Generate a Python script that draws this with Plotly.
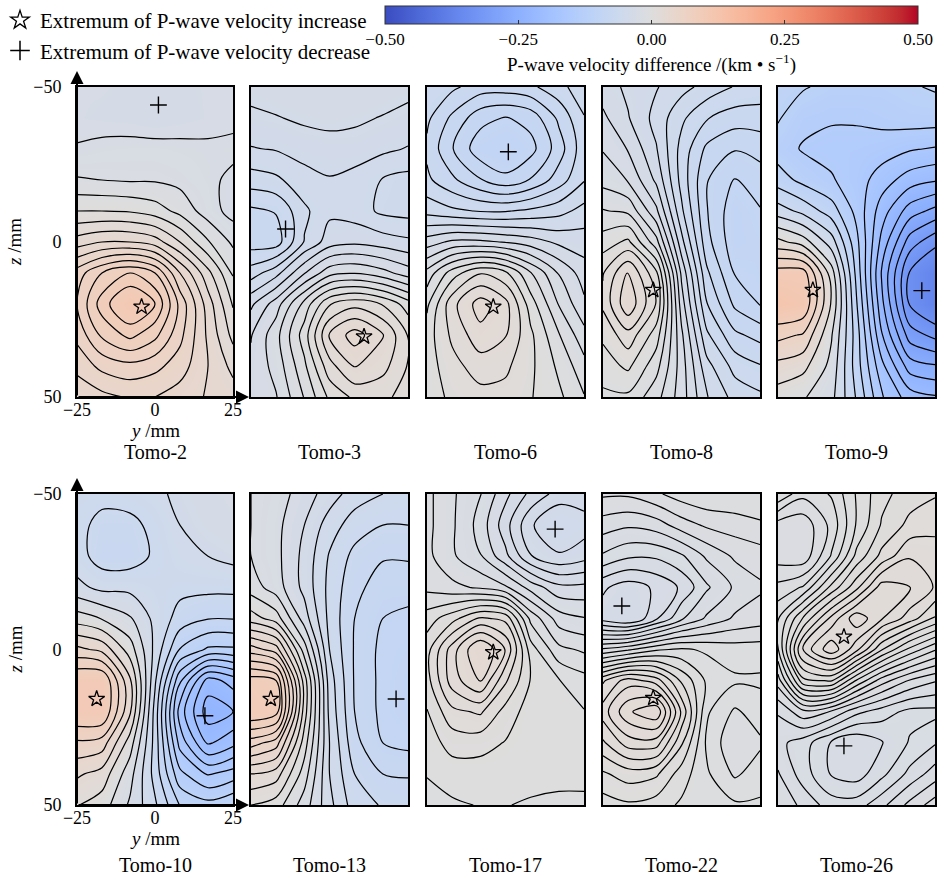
import math
import plotly.graph_objects as go

# ---------------- data (km/s), grid ----------------
Y_MM = [-25, -17, -8, 0, 8, 17, 25]
Z_MM = [-50, -40, -30, -20, -10, 0, 10, 20, 30, 40, 50]

PANEL_NAMES = ["Tomo-2", "Tomo-3", "Tomo-6", "Tomo-8", "Tomo-9",
               "Tomo-10", "Tomo-13", "Tomo-17", "Tomo-22", "Tomo-26"]

TOMO_2 = [
    [-0.029, -0.029, -0.030, -0.031, -0.030, -0.029, -0.028],
    [-0.029, -0.030, -0.031, -0.033, -0.031, -0.029, -0.028],
    [-0.024, -0.022, -0.021, -0.021, -0.022, -0.023, -0.022],
    [-0.014, -0.015, -0.016, -0.016, -0.018, -0.022, -0.028],
    [0.005, 0.005, 0.004, 0.000, -0.008, -0.020, -0.029],
    [0.030, 0.035, 0.035, 0.030, 0.015, -0.004, -0.017],
    [0.060, 0.075, 0.085, 0.075, 0.045, 0.018, -0.006],
    [0.065, 0.090, 0.108, 0.095, 0.062, 0.030, 0.004],
    [0.058, 0.077, 0.088, 0.078, 0.058, 0.033, 0.012],
    [0.048, 0.058, 0.062, 0.058, 0.050, 0.035, 0.022],
    [0.038, 0.042, 0.046, 0.045, 0.040, 0.034, 0.030],
]
TOMO_3 = [
    [-0.036, -0.034, -0.032, -0.032, -0.032, -0.034, -0.036],
    [-0.040, -0.039, -0.037, -0.036, -0.037, -0.039, -0.041],
    [-0.046, -0.045, -0.043, -0.042, -0.042, -0.044, -0.046],
    [-0.056, -0.054, -0.048, -0.046, -0.048, -0.053, -0.055],
    [-0.068, -0.066, -0.054, -0.047, -0.049, -0.054, -0.055],
    [-0.070, -0.070, -0.052, -0.042, -0.040, -0.042, -0.044],
    [-0.056, -0.048, -0.032, -0.020, -0.018, -0.022, -0.028],
    [-0.040, -0.028, -0.008, 0.010, 0.015, 0.010, 0.000],
    [-0.032, -0.020, 0.000, 0.025, 0.035, 0.025, 0.010],
    [-0.030, -0.022, -0.005, 0.015, 0.025, 0.020, 0.010],
    [-0.030, -0.025, -0.010, 0.005, 0.012, 0.012, 0.008],
]
TOMO_6 = [
    [-0.060, -0.065, -0.070, -0.070, -0.068, -0.062, -0.055],
    [-0.065, -0.075, -0.085, -0.088, -0.085, -0.072, -0.060],
    [-0.068, -0.080, -0.092, -0.096, -0.090, -0.077, -0.062],
    [-0.065, -0.072, -0.080, -0.085, -0.080, -0.070, -0.060],
    [-0.055, -0.058, -0.060, -0.060, -0.058, -0.055, -0.050],
    [-0.035, -0.030, -0.030, -0.032, -0.035, -0.040, -0.042],
    [-0.015, 0.000, 0.010, 0.005, -0.010, -0.025, -0.035],
    [-0.005, 0.015, 0.028, 0.020, 0.000, -0.018, -0.030],
    [0.000, 0.012, 0.022, 0.018, 0.005, -0.010, -0.022],
    [0.000, 0.008, 0.014, 0.012, 0.005, -0.005, -0.015],
    [0.000, 0.005, 0.008, 0.008, 0.004, -0.002, -0.010],
]
TOMO_8 = [
    [-0.035, -0.040, -0.045, -0.050, -0.055, -0.060, -0.062],
    [-0.030, -0.038, -0.048, -0.058, -0.066, -0.070, -0.070],
    [-0.025, -0.032, -0.045, -0.062, -0.075, -0.080, -0.078],
    [-0.020, -0.025, -0.040, -0.062, -0.080, -0.088, -0.084],
    [-0.010, -0.012, -0.030, -0.058, -0.080, -0.092, -0.088],
    [0.000, 0.005, -0.015, -0.050, -0.078, -0.092, -0.090],
    [0.010, 0.025, 0.005, -0.040, -0.072, -0.088, -0.090],
    [0.012, 0.030, 0.010, -0.035, -0.066, -0.082, -0.088],
    [0.005, 0.015, 0.000, -0.030, -0.058, -0.072, -0.076],
    [0.000, 0.005, -0.008, -0.028, -0.050, -0.062, -0.066],
    [-0.005, -0.005, -0.015, -0.028, -0.045, -0.055, -0.058],
]
TOMO_9 = [
    [-0.100, -0.110, -0.120, -0.120, -0.120, -0.115, -0.110],
    [-0.110, -0.130, -0.135, -0.135, -0.130, -0.125, -0.125],
    [-0.125, -0.140, -0.145, -0.145, -0.150, -0.160, -0.165],
    [-0.100, -0.120, -0.135, -0.150, -0.175, -0.200, -0.210],
    [-0.050, -0.070, -0.100, -0.145, -0.200, -0.250, -0.270],
    [0.020, 0.000, -0.050, -0.130, -0.220, -0.300, -0.330],
    [0.100, 0.100, 0.000, -0.120, -0.240, -0.340, -0.370],
    [0.120, 0.110, 0.010, -0.110, -0.230, -0.340, -0.370],
    [0.070, 0.060, -0.010, -0.100, -0.210, -0.300, -0.320],
    [0.030, 0.020, -0.020, -0.100, -0.180, -0.250, -0.260],
    [0.000, -0.010, -0.030, -0.090, -0.160, -0.200, -0.210],
]
TOMO_10 = [
    [-0.055, -0.058, -0.055, -0.050, -0.040, -0.030, -0.028],
    [-0.058, -0.068, -0.068, -0.058, -0.045, -0.035, -0.030],
    [-0.055, -0.072, -0.072, -0.060, -0.050, -0.045, -0.040],
    [-0.040, -0.050, -0.050, -0.055, -0.058, -0.058, -0.058],
    [0.000, -0.010, -0.025, -0.050, -0.070, -0.080, -0.080],
    [0.050, 0.040, 0.000, -0.050, -0.100, -0.120, -0.120],
    [0.100, 0.100, 0.030, -0.060, -0.150, -0.215, -0.200],
    [0.100, 0.100, 0.030, -0.070, -0.180, -0.235, -0.225],
    [0.060, 0.055, 0.000, -0.070, -0.160, -0.210, -0.195],
    [0.030, 0.020, -0.020, -0.070, -0.130, -0.155, -0.145],
    [0.010, 0.000, -0.030, -0.060, -0.100, -0.110, -0.100],
]
TOMO_13 = [
    [-0.015, -0.020, -0.030, -0.040, -0.050, -0.055, -0.058],
    [-0.015, -0.022, -0.035, -0.050, -0.060, -0.065, -0.065],
    [-0.015, -0.022, -0.038, -0.056, -0.068, -0.074, -0.074],
    [-0.010, -0.020, -0.038, -0.058, -0.072, -0.080, -0.080],
    [0.010, 0.000, -0.030, -0.058, -0.075, -0.085, -0.088],
    [0.050, 0.040, -0.010, -0.055, -0.076, -0.088, -0.090],
    [0.090, 0.085, 0.010, -0.050, -0.076, -0.088, -0.092],
    [0.095, 0.090, 0.010, -0.048, -0.075, -0.088, -0.092],
    [0.060, 0.050, 0.000, -0.045, -0.072, -0.085, -0.088],
    [0.025, 0.020, -0.010, -0.045, -0.065, -0.075, -0.076],
    [0.005, 0.000, -0.020, -0.042, -0.060, -0.066, -0.068],
]
TOMO_17 = [
    [-0.010, -0.015, -0.020, -0.028, -0.035, -0.040, -0.040],
    [-0.010, -0.015, -0.022, -0.032, -0.042, -0.048, -0.045],
    [-0.010, -0.015, -0.020, -0.028, -0.038, -0.042, -0.040],
    [-0.008, -0.010, -0.012, -0.015, -0.022, -0.028, -0.028],
    [0.000, 0.005, 0.012, 0.010, -0.008, -0.018, -0.020],
    [0.005, 0.018, 0.030, 0.020, 0.000, -0.010, -0.012],
    [0.005, 0.018, 0.025, 0.012, 0.002, -0.002, -0.005],
    [0.002, 0.010, 0.012, 0.005, 0.000, 0.000, -0.002],
    [0.000, 0.004, 0.004, 0.002, 0.000, 0.000, 0.000],
    [-0.002, 0.000, 0.000, 0.000, 0.000, 0.000, 0.000],
    [-0.004, -0.003, -0.002, -0.002, -0.003, -0.004, -0.004],
]
TOMO_22 = [
    [-0.010, -0.010, -0.008, -0.006, -0.005, -0.005, -0.005],
    [-0.015, -0.016, -0.015, -0.012, -0.010, -0.009, -0.008],
    [-0.020, -0.022, -0.022, -0.020, -0.016, -0.013, -0.012],
    [-0.028, -0.030, -0.028, -0.025, -0.020, -0.016, -0.014],
    [-0.030, -0.032, -0.026, -0.020, -0.016, -0.013, -0.012],
    [-0.010, -0.008, -0.005, -0.004, -0.005, -0.006, -0.006],
    [0.010, 0.015, 0.012, 0.004, -0.002, -0.004, -0.004],
    [0.015, 0.022, 0.025, 0.010, -0.004, -0.008, -0.006],
    [0.010, 0.015, 0.015, 0.005, -0.005, -0.010, -0.008],
    [0.004, 0.006, 0.005, 0.000, -0.004, -0.008, -0.006],
    [0.000, 0.001, 0.000, -0.002, -0.003, -0.004, -0.004],
]
TOMO_26 = [
    [-0.004, -0.008, -0.006, -0.001, 0.003, 0.005, 0.006],
    [-0.0125, -0.013, -0.008, -0.001, 0.004, 0.007, 0.008],
    [-0.0125, -0.013, -0.006, 0.002, 0.007, 0.011, 0.010],
    [-0.008, -0.006, 0.002, 0.008, 0.015, 0.014, 0.011],
    [-0.004, 0.004, 0.012, 0.018, 0.014, 0.010, 0.006],
    [-0.004, 0.012, 0.018, 0.012, 0.004, -0.002, -0.006],
    [-0.010, 0.003, 0.004, -0.004, -0.010, -0.014, -0.016],
    [-0.016, -0.012, -0.014, -0.018, -0.020, -0.022, -0.022],
    [-0.018, -0.020, -0.024, -0.026, -0.024, -0.021, -0.019],
    [-0.016, -0.020, -0.024, -0.025, -0.022, -0.018, -0.015],
    [-0.014, -0.017, -0.020, -0.020, -0.017, -0.013, -0.010],
]
FIELDS = [TOMO_2, TOMO_3, TOMO_6, TOMO_8, TOMO_9,
          TOMO_10, TOMO_13, TOMO_17, TOMO_22, TOMO_26]

# contour interval of each panel (km/s)
CONTOUR_STEP = [0.010, 0.007, 0.007, 0.007, 0.025, 0.018, 0.010, 0.0045, 0.003, 0.0025]

# extremum positions (y, z in mm); None = not shown
STAR_Y = [-4.3, 11.0, -3.9, -9.0, -13.9, -18.7, -18.7, -3.9, -9.0, -4.0]
STAR_Z = [20.9, 30.5, 20.9, 15.5, 15.5, 15.9, 15.9, 0.9, 15.6, -4.1]
PLUS_Y = [1.1, -14.0, 0.9, None, 20.8, 16.0, 21.2, 15.8, -19.0, -4.0]
PLUS_Z = [-44.2, -4.2, -29.1, None, 15.7, 21.3, 15.9, -38.7, -14.0, 31.0]

CBAR_TICKS = [-0.5, -0.25, 0.0, 0.25, 0.5]
CBAR_LABELS = ["\u22120.50", "\u22120.25", "0.00", "0.25", "0.50"]

# ---------------- style ----------------
W, H = 941, 879
FONT = "Liberation Serif"
COL_PX = [(77, 233), (251, 408), (427, 584), (603, 760), (778, 935)]
ROW_PX = [(87, 397), (494, 805)]
TITLE_Y_PX = [452, 865]

COOLWARM = [
    (59, 76, 192), (68, 90, 204), (77, 104, 215), (87, 117, 225), (98, 130, 234),
    (108, 142, 241), (119, 154, 247), (130, 165, 251), (141, 176, 254),
    (152, 185, 255), (163, 194, 255), (174, 201, 253), (184, 208, 249),
    (194, 213, 244), (204, 217, 238), (213, 219, 230), (221, 221, 221),
    (229, 216, 209), (236, 211, 197), (241, 204, 185), (245, 196, 173),
    (247, 187, 160), (247, 177, 148), (247, 166, 135), (244, 154, 123),
    (241, 141, 111), (236, 127, 99), (229, 112, 88), (222, 96, 77),
    (213, 80, 66), (203, 62, 56), (192, 40, 47), (180, 4, 38)]
colorscale = [[i / (len(COOLWARM) - 1), "rgb(%d,%d,%d)" % c] for i, c in enumerate(COOLWARM)]

fig = go.Figure()
layout = dict(
    width=W, height=H, margin=dict(l=0, r=0, t=0, b=0, autoexpand=False),
    paper_bgcolor="white", plot_bgcolor="white",
    font=dict(family=FONT, size=18, color="black"),
    coloraxis=dict(
        colorscale=colorscale, cmin=-0.5, cmax=0.5,
        colorbar=dict(
            orientation="h", x=(385 + 918) / 2 / W, xanchor="center",
            y=1 - 6 / H, yanchor="top", len=(918 - 385) / W, lenmode="fraction",
            xpad=0, ypad=0,
            thickness=18, outlinewidth=1, outlinecolor="#333",
            ticks="inside", ticklen=4, tickcolor="#333",
            tickvals=CBAR_TICKS, ticktext=CBAR_LABELS,
            tickfont=dict(family=FONT, size=17),
            title=dict(text="P-wave velocity difference /(km \u2022 s<sup>\u22121</sup>)",
                       side="bottom", font=dict(family=FONT, size=19)),
        ),
    ),
    showlegend=True,
    legend=dict(x=0.0, y=1.0, xanchor="left", yanchor="top",
                font=dict(family=FONT, size=21), bgcolor="rgba(0,0,0,0)",
                itemwidth=30, tracegroupgap=0),
)

annotations = []
for i, field in enumerate(FIELDS):
    r, c = divmod(i, 5)
    n = i + 1
    xs = "" if n == 1 else str(n)
    x0, x1 = COL_PX[c]
    y0, y1 = ROW_PX[r]
    first = c == 0
    zmin = min(min(row) for row in field)
    zmax = max(max(row) for row in field)
    step = CONTOUR_STEP[i]
    # levels on a half-step lattice, keeping away from the extreme values
    start = (math.ceil((zmin + 0.4 * step) / step - 0.5) + 0.5) * step
    end = (math.floor((zmax - 0.4 * step) / step - 0.5) + 0.5) * step
    fig.add_trace(go.Contour(
        x=Y_MM, y=Z_MM, z=field, coloraxis="coloraxis",
        xaxis="x" + xs, yaxis="y" + xs,
        contours=dict(start=start, end=end + 1e-9, size=step,
                      coloring="heatmap", showlines=True),
        line=dict(color="black", width=1.2, smoothing=0.9),
        showlegend=False, hoverinfo="skip"))
    if STAR_Y[i] is not None:
        fig.add_trace(go.Scatter(
            x=[STAR_Y[i]], y=[STAR_Z[i]], mode="markers",
            xaxis="x" + xs, yaxis="y" + xs, showlegend=False,
            marker=dict(symbol="star-open", size=12, color="black", line=dict(width=1.3))))
    if PLUS_Y[i] is not None:
        fig.add_trace(go.Scatter(
            x=[PLUS_Y[i]], y=[PLUS_Z[i]], mode="markers",
            xaxis="x" + xs, yaxis="y" + xs, showlegend=False,
            marker=dict(symbol="cross-thin-open", size=12, color="black", line=dict(width=1.4))))
    layout["xaxis" + xs] = dict(
        domain=[x0 / W, x1 / W], anchor="y" + xs, range=[-25, 25],
        showline=True, mirror=True, linecolor="black", linewidth=1.8,
        showgrid=False, zeroline=False, showticklabels=first,
        tickvals=[-25, 0, 25], ticks="", ticklabelstandoff=-5,
        tickfont=dict(family=FONT, size=18))
    layout["yaxis" + xs] = dict(
        domain=[1 - y1 / H, 1 - y0 / H], anchor="x" + xs, range=[50, -50],
        showline=True, mirror=True, linecolor="black", linewidth=1.8,
        showgrid=False, zeroline=False, showticklabels=first,
        tickvals=[-50, 0, 50], ticks="", ticklabelstandoff=10,
        tickfont=dict(family=FONT, size=18))
    annotations.append(dict(
        text=PANEL_NAMES[i], xref="paper", yref="paper", xanchor="center", yanchor="middle",
        x=(x0 + x1) / 2 / W, y=1 - TITLE_Y_PX[r] / H, showarrow=False,
        font=dict(family=FONT, size=20)))
    if first:
        # axis arrows
        annotations.append(dict(
            x=x0 / W, y=1 - (y0 - 16) / H, xref="paper", yref="paper", ax=0, ay=y1 - (y0 - 16),
            axref="pixel", ayref="pixel", text="", showarrow=True,
            arrowhead=2, arrowsize=1.3, arrowwidth=2, arrowcolor="black", standoff=0))
        annotations.append(dict(
            x=(x1 + 16) / W, y=1 - y1 / H, xref="paper", yref="paper", ax=-(x1 + 16 - x0), ay=0,
            axref="pixel", ayref="pixel", text="", showarrow=True,
            arrowhead=2, arrowsize=1.3, arrowwidth=2, arrowcolor="black", standoff=0))
        annotations.append(dict(
            text="<i>y</i> /mm", xref="paper", yref="paper", xanchor="center", yanchor="middle",
            x=(x0 + x1) / 2 / W, y=1 - (y1 + 33) / H, showarrow=False,
            font=dict(family=FONT, size=19)))
        annotations.append(dict(
            text="<i>z</i> /mm", xref="paper", yref="paper", textangle=-90,
            xanchor="center", yanchor="middle",
            x=15 / W, y=1 - (y0 + y1) / 2 / H, showarrow=False,
            font=dict(family=FONT, size=19)))

# legend entries
fig.add_trace(go.Scatter(x=[None], y=[None], mode="markers",
                         name="Extremum of P-wave velocity increase",
                         marker=dict(symbol="star-open", size=14, color="black", line=dict(width=1.3))))
fig.add_trace(go.Scatter(x=[None], y=[None], mode="markers",
                         name="Extremum of P-wave velocity decrease",
                         marker=dict(symbol="cross-thin-open", size=14, color="black", line=dict(width=1.5))))

layout["annotations"] = annotations
fig.update_layout(**layout)
fig.write_html("out.html")
